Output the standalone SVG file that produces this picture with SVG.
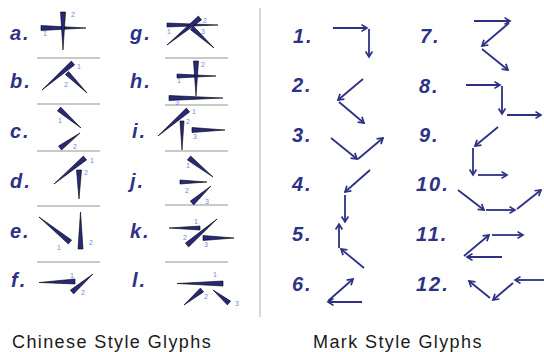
<svg xmlns="http://www.w3.org/2000/svg" width="544" height="352" viewBox="0 0 544 352">
<style>
.lbl{font-family:"Liberation Sans",Arial,sans-serif;font-weight:bold;font-style:italic;font-size:20px;letter-spacing:2px;fill:#2d3286}
.n{font-family:"Liberation Sans",Arial,sans-serif;font-size:7px;fill:#7585dc;text-anchor:middle}
.w{fill:#272a7c;stroke:#000;stroke-width:0.6;stroke-linejoin:miter}
.sep{stroke:#949494;stroke-width:1.2}
.mk{stroke:#2d3084;stroke-width:1.8;fill:none;marker-end:url(#ah)}
.cap{font-family:"Liberation Sans",Arial,sans-serif;font-size:18px;letter-spacing:1.4px;fill:#1a1a1a}
</style>
<defs>
<marker id="ah" markerWidth="10" markerHeight="10" refX="7" refY="4" orient="auto" markerUnits="userSpaceOnUse" overflow="visible">
<path d="M1.5,0.6 L7,4 L1.5,7.4" fill="none" stroke="#2d3084" stroke-width="1.7"/>
</marker>
</defs>
<rect width="544" height="352" fill="#fff"/>

<line x1="260" y1="8" x2="260" y2="317" stroke="#b0b0b0" stroke-width="1"/>

<g id="separators">
<line class="sep" x1="37" y1="58" x2="100" y2="58"/>
<line class="sep" x1="37" y1="104" x2="100" y2="104"/>
<line class="sep" x1="37" y1="151" x2="100" y2="151"/>
<line class="sep" x1="37" y1="206" x2="100" y2="206"/>
<line class="sep" x1="37" y1="262" x2="100" y2="262"/>
<line class="sep" x1="165" y1="58" x2="228" y2="58"/>
<line class="sep" x1="165" y1="105" x2="228" y2="105"/>
<line class="sep" x1="165" y1="151" x2="228" y2="151"/>
<line class="sep" x1="165" y1="205" x2="228" y2="205"/>
<line class="sep" x1="165" y1="262" x2="228" y2="262"/>
</g>

<g id="glyph-a">
<text class="lbl" x="10" y="40">a.</text>
<polygon class="w" points="41,25.5 86,28 41,30.5"/>
<polygon class="w" points="60.5,12 63,50 65.5,12"/>
<text class="n" x="45" y="36">1</text><text class="n" x="73" y="17">2</text>
</g>
<g id="glyph-b">
<text class="lbl" x="10" y="88">b.</text>
<polygon class="w" points="71.4,61.1 42,90 74.6,64.9"/>
<polygon class="w" points="65.4,74.6 87,93 68.6,71.4"/>
<text class="n" x="79" y="69">1</text><text class="n" x="66" y="87">2</text>
</g>
<g id="glyph-c">
<text class="lbl" x="10" y="138">c.</text>
<polygon class="w" points="57.4,110.9 81,128 60.6,107.1"/>
<polygon class="w" points="61.5,150 80,133 58.5,146"/>
<text class="n" x="60" y="123">1</text><text class="n" x="75" y="149">2</text>
</g>
<g id="glyph-d">
<text class="lbl" x="10" y="188">d.</text>
<polygon class="w" points="83.4,156.1 54,184 86.6,159.9"/>
<polygon class="w" points="76.5,170 79,199 81.5,170"/>
<text class="n" x="92" y="163">1</text><text class="n" x="86" y="175">2</text>
</g>
<g id="glyph-e">
<text class="lbl" x="10" y="238">e.</text>
<polygon class="w" points="71.6,240.1 39,217 68.4,244"/>
<polygon class="w" points="78,249 80.5,212 83,249"/>
<text class="n" x="59" y="250">1</text><text class="n" x="91" y="245">2</text>
</g>
<g id="glyph-f">
<text class="lbl" x="11" y="287">f.</text>
<polygon class="w" points="75,279 39,282.5 75,284"/>
<polygon class="w" points="73.6,293.9 93,274 70.4,290.1"/>
<text class="n" x="72" y="278">1</text><text class="n" x="83" y="295">2</text>
</g>

<g id="glyph-g">
<text class="lbl" x="130" y="40">g.</text>
<polygon class="w" points="167,23 218,25 167,27"/>
<polygon class="w" points="198.4,16.1 167,45 201.6,19.9"/>
<polygon class="w" points="190.5,29.7 214,48 193.5,26.3"/>
<text class="n" x="169" y="34">1</text><text class="n" x="205" y="23">2</text><text class="n" x="203" y="34">3</text>
</g>
<g id="glyph-h">
<text class="lbl" x="130" y="88">h.</text>
<polygon class="w" points="177,74 216,76 177,78"/>
<polygon class="w" points="193.5,61 196,96 198.5,61"/>
<polygon class="w" points="169,95.5 223,98 169,100.5"/>
<text class="n" x="179" y="83">1</text><text class="n" x="203" y="67">2</text><text class="n" x="177" y="105">3</text>
</g>
<g id="glyph-i">
<text class="lbl" x="132" y="138">i.</text>
<polygon class="w" points="186.4,108.1 158,136 189.6,111.9"/>
<polygon class="w" points="180,121 182,150 184,121"/>
<polygon class="w" points="192,127.5 225,130 192,132.5"/>
<text class="n" x="194" y="114">1</text><text class="n" x="188" y="124">2</text><text class="n" x="195" y="139">3</text>
</g>
<g id="glyph-j">
<text class="lbl" x="130" y="188">j.</text>
<polygon class="w" points="187.4,160 213,177 190.6,156"/>
<polygon class="w" points="180,180 207,182 180,184"/>
<polygon class="w" points="193.7,204.9 211,186 190.3,201.1"/>
<text class="n" x="188" y="168">1</text><text class="n" x="187" y="193">2</text><text class="n" x="207" y="204">3</text>
</g>
<g id="glyph-k">
<text class="lbl" x="130" y="238">k.</text>
<polygon class="w" points="200,226 169,228 200,230"/>
<polygon class="w" points="188.6,246.9 217,219 185.4,243.1"/>
<polygon class="w" points="203,235.5 234,238 203,240.5"/>
<text class="n" x="196" y="224">1</text><text class="n" x="185" y="240">2</text><text class="n" x="206" y="247">3</text>
</g>
<g id="glyph-l">
<text class="lbl" x="132" y="287">l.</text>
<polygon class="w" points="223,281 177,283.5 223,286"/>
<polygon class="w" points="200.4,288.1 184,305 203.6,291.9"/>
<polygon class="w" points="230.6,301.1 213,290 227.4,304.9"/>
<text class="n" x="215" y="277">1</text><text class="n" x="206" y="299">2</text><text class="n" x="237" y="306">3</text>
</g>

<g id="mark-1">
<text class="lbl" x="293" y="43">1.</text>
<line class="mk" x1="333" y1="28" x2="367" y2="28"/>
<line class="mk" x1="369" y1="29" x2="369" y2="57"/>
</g>
<g id="mark-2">
<text class="lbl" x="292" y="92">2.</text>
<line class="mk" x1="363" y1="79" x2="338" y2="100"/>
<line class="mk" x1="339" y1="102" x2="364" y2="123"/>
</g>
<g id="mark-3">
<text class="lbl" x="292" y="142">3.</text>
<line class="mk" x1="331" y1="138" x2="357" y2="159"/>
<line class="mk" x1="358" y1="159" x2="383" y2="138"/>
</g>
<g id="mark-4">
<text class="lbl" x="292" y="191">4.</text>
<line class="mk" x1="370" y1="170" x2="345" y2="192"/>
<line class="mk" x1="345" y1="195" x2="345" y2="222"/>
</g>
<g id="mark-5">
<text class="lbl" x="292" y="241">5.</text>
<line class="mk" x1="339" y1="248" x2="339" y2="224"/>
<line class="mk" x1="364" y1="268" x2="341" y2="249"/>
</g>
<g id="mark-6">
<text class="lbl" x="292" y="291">6.</text>
<line class="mk" x1="328" y1="301" x2="353" y2="279"/>
<line class="mk" x1="362" y1="302" x2="328" y2="302"/>
</g>
<g id="mark-7">
<text class="lbl" x="420" y="43">7.</text>
<line class="mk" x1="474" y1="21" x2="510" y2="21"/>
<line class="mk" x1="509" y1="23" x2="482" y2="46"/>
<line class="mk" x1="482" y1="49" x2="508" y2="70"/>
</g>
<g id="mark-8">
<text class="lbl" x="419" y="93">8.</text>
<line class="mk" x1="466" y1="85" x2="500" y2="85"/>
<line class="mk" x1="502" y1="86" x2="502" y2="114"/>
<line class="mk" x1="507" y1="115" x2="541" y2="115"/>
</g>
<g id="mark-9">
<text class="lbl" x="419" y="142">9.</text>
<line class="mk" x1="498" y1="127" x2="475" y2="146"/>
<line class="mk" x1="473" y1="148" x2="473" y2="175"/>
<line class="mk" x1="478" y1="175" x2="507" y2="175"/>
</g>
<g id="mark-10">
<text class="lbl" x="416" y="191">10.</text>
<line class="mk" x1="458" y1="190" x2="484" y2="210"/>
<line class="mk" x1="486" y1="210" x2="515" y2="210"/>
<line class="mk" x1="517" y1="209" x2="541" y2="190"/>
</g>
<g id="mark-11">
<text class="lbl" x="416" y="241">11.</text>
<line class="mk" x1="464" y1="256" x2="489" y2="235"/>
<line class="mk" x1="492" y1="235" x2="523" y2="235"/>
<line class="mk" x1="502" y1="257" x2="467" y2="257"/>
</g>
<g id="mark-12">
<text class="lbl" x="416" y="291">12.</text>
<line class="mk" x1="544" y1="280" x2="515" y2="280"/>
<line class="mk" x1="513" y1="283" x2="493" y2="300"/>
<line class="mk" x1="490" y1="298" x2="469" y2="281"/>
</g>

<text class="cap" x="12" y="348">Chinese Style Glyphs</text>
<text class="cap" x="313" y="348">Mark Style Glyphs</text>
</svg>
